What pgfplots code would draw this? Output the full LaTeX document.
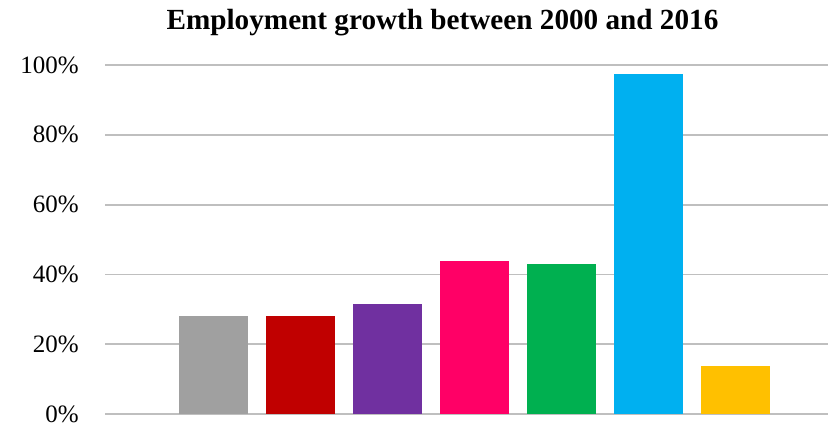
\documentclass[border=0pt]{standalone}
\usepackage{pgfplots}
\pgfplotsset{compat=1.18}
\usepackage{fontspec}
\setmainfont{Liberation Serif}
\definecolor{cgray}{HTML}{A0A0A0}
\definecolor{cred}{HTML}{C00000}
\definecolor{cpurple}{HTML}{7030A0}
\definecolor{cpink}{HTML}{FF0066}
\definecolor{cgreen}{HTML}{00B050}
\definecolor{cblue}{HTML}{00B0F0}
\definecolor{cyellow}{HTML}{FFC000}
\definecolor{grid}{HTML}{DCDCDC}
\begin{document}
\begin{tikzpicture}[x=1pt,y=1pt]
\path[use as bounding box] (0,0) rectangle (829,424);
\node[font=\bfseries\fontsize{29.2}{32}\selectfont] at (442.5,401) {Employment growth between 2000 and 2016};
\begin{axis}[
  at={(105pt,10pt)}, anchor=south west,
  scale only axis, width=723pt, height=349pt,
  xmin=-1.25, xmax=7.06,
  ymin=0, ymax=100,
  ytick={0,20,40,60,80,100},
  yticklabels={0\%,20\%,40\%,60\%,80\%,100\%},
  xtick=\empty,
  axis line style={draw=none},
  major tick style={draw=none},
  ymajorgrids, grid style={grid, line width=1.8pt},
  yticklabel style={font=\fontsize{25}{28}\selectfont, inner sep=0pt, xshift=-26pt},
  ybar, bar width=69pt, bar shift=0pt,
  clip=false,
]
\addplot[fill=cgray, draw=none] coordinates {(0,28.1)};
\addplot[fill=cred, draw=none] coordinates {(1,28.0)};
\addplot[fill=cpurple, draw=none] coordinates {(2,31.5)};
\addplot[fill=cpink, draw=none] coordinates {(3,43.8)};
\addplot[fill=cgreen, draw=none] coordinates {(4,43.0)};
\addplot[fill=cblue, draw=none] coordinates {(5,97.4)};
\addplot[fill=cyellow, draw=none] coordinates {(6,13.8)};
\end{axis}
\end{tikzpicture}
\end{document}
